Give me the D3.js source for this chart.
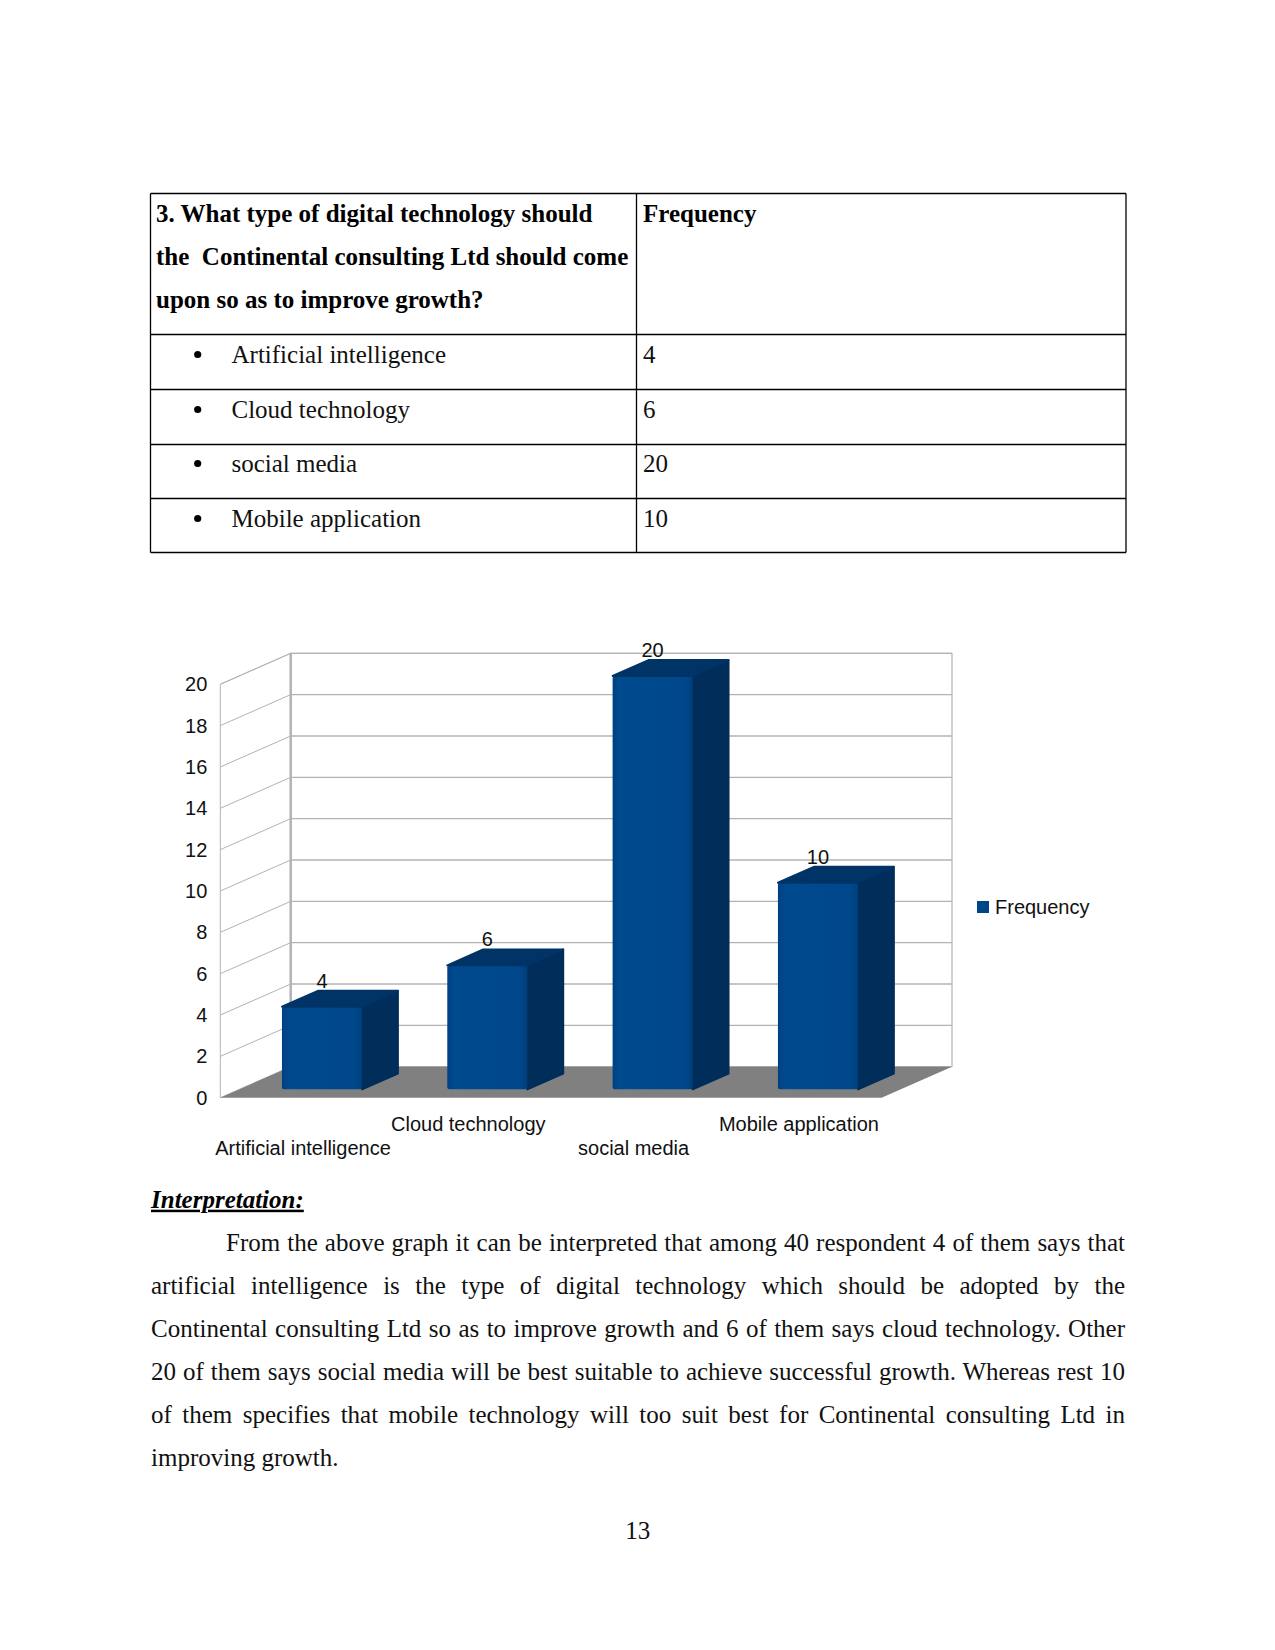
<!DOCTYPE html>
<html>
<head>
<meta charset="utf-8">
<script src="https://cdn.jsdelivr.net/npm/d3@7"></script>
<style>
  body { margin: 0; background: #fff; }
  #page { position: relative; width: 1275px; height: 1650px; overflow: hidden; }
  svg { position: absolute; left: 0; top: 0; }
  .para { position: absolute; left: 151px; width: 974px; font-family: "Liberation Serif", serif; font-size: 25px; color: #111; }
  .para div { height: 43.1px; line-height: 43.1px; text-align: justify; text-align-last: justify; }
  .para div.last { text-align-last: left; }
</style>
</head>
<body>
<div id="page"></div>
<script>
// page + chart layout
const PAGE_W = 1275, PAGE_H = 1650;

// data
const categories = ["Artificial intelligence", "Cloud technology", "social media", "Mobile application"];
const frequency = [4, 6, 20, 10];
const yTicks = [0, 2, 4, 6, 8, 10, 12, 14, 16, 18, 20];
const seriesName = "Frequency";

const question = ["3. What type of digital technology should",
                  "the  Continental consulting Ltd should come",
                  "upon so as to improve growth?"];

const paraLines = [
  "From the above graph it can be interpreted that among 40 respondent 4 of them says that",
  "artificial intelligence is the type of digital technology which should be adopted by the",
  "Continental consulting Ltd so as to improve growth and 6 of them says cloud technology. Other",
  "20 of them says social media will be best suitable to achieve successful growth. Whereas rest 10",
  "of them specifies that mobile technology will too suit best for Continental consulting Ltd in",
  "improving growth."
];

const svg = d3.select("#page")
  .append("svg")
    .attr("width", PAGE_W)
    .attr("height", PAGE_H);

// ---------- table ----------
const T = {left: 150.5, mid: 636.5, right: 1126, rows: [193.5, 334.5, 389.5, 444.5, 498.5, 552.5]};
const tbl = svg.append("g").attr("stroke", "#000").attr("stroke-width", 1.3);
T.rows.forEach(y => tbl.append("line").attr("x1", T.left).attr("x2", T.right).attr("y1", y).attr("y2", y));
[T.left, T.mid, T.right].forEach(x => tbl.append("line").attr("x1", x).attr("x2", x).attr("y1", T.rows[0]).attr("y2", T.rows[5]));

svg.selectAll(".q")
  .data(question)
  .enter()
  .append("text")
    .attr("x", 156)
    .attr("y", (d, i) => 222.2 + i * 43.1)
    .attr("font-family", "Liberation Serif")
    .attr("font-weight", "bold")
    .attr("font-size", 25)
    .attr("xml:space", "preserve")
    .style("white-space", "pre")
    .text(d => d);

svg.append("text")
  .attr("x", 643).attr("y", 222.2)
  .attr("font-family", "Liberation Serif").attr("font-weight", "bold").attr("font-size", 25)
  .text(seriesName);

const rowBase = [362.5, 417.5, 471.5, 526.5];
categories.forEach((c, i) => {
  svg.append("circle").attr("cx", 197.7).attr("cy", rowBase[i] - 8).attr("r", 3.6).attr("fill", "#000");
  svg.append("text").attr("x", 231.5).attr("y", rowBase[i])
    .attr("font-family", "Liberation Serif").attr("font-size", 25).attr("fill", "#111").text(c);
  svg.append("text").attr("x", 643).attr("y", rowBase[i])
    .attr("font-family", "Liberation Serif").attr("font-size", 25).attr("fill", "#111").text(frequency[i]);
});

// ---------- 3D bar chart ----------
const X0 = 220.3, X1 = 881.6;        // front plane of floor
const Y0 = 1097.7, Y20 = 684.3;      // front plane value range
const DEPTH = {dx: 70.4, dy: -31};    // front -> back wall
const Z0 = 0.27, Z1 = 0.78;           // bar depth span
const FONT_PX = 20;

const X_SCALE = d3.scaleBand().domain(categories).range([X0, X1]).padding(0);
const Y_SCALE = d3.scaleLinear().domain([0, 20]).range([Y0, Y20]);

const P = (x, v, z) => [x + z * DEPTH.dx, Y_SCALE(v) + z * DEPTH.dy];
const poly = pts => pts.map(p => p.join(",")).join(" ");

const chart = svg.append("g");

// left wall
chart.append("polygon")
  .attr("points", poly([P(X0, 0, 0), P(X0, 20, 0), P(X0, 20, 1), P(X0, 0, 1)]))
  .attr("fill", "#fff").attr("stroke", "#b3b3b3").attr("stroke-width", 1);

// back wall
chart.append("polygon")
  .attr("points", poly([P(X0, 0, 1), P(X0, 20, 1), P(X1, 20, 1), P(X1, 0, 1)]))
  .attr("fill", "#fff").attr("stroke", "#b3b3b3").attr("stroke-width", 1.2);

// gridlines: left wall diagonals + back wall horizontals
chart.selectAll(".gl")
  .data(yTicks.slice(1))
  .enter()
  .append("line")
    .attr("x1", d => P(X0, d, 0)[0]).attr("y1", d => P(X0, d, 0)[1])
    .attr("x2", d => P(X0, d, 1)[0]).attr("y2", d => P(X0, d, 1)[1])
    .attr("stroke", "#b3b3b3").attr("stroke-width", 1);

chart.selectAll(".gb")
  .data(yTicks.slice(1))
  .enter()
  .append("line")
    .attr("x1", d => P(X0, d, 1)[0]).attr("y1", d => P(X0, d, 1)[1])
    .attr("x2", d => P(X1, d, 1)[0]).attr("y2", d => P(X1, d, 1)[1])
    .attr("stroke", "#b3b3b3").attr("stroke-width", 1.3);

// thicker back-left edge
chart.append("line")
  .attr("x1", P(X0, 0, 1)[0]).attr("y1", P(X0, 0, 1)[1])
  .attr("x2", P(X0, 20, 1)[0]).attr("y2", P(X0, 20, 1)[1])
  .attr("stroke", "#b3b3b3").attr("stroke-width", 2.5);

// floor
chart.append("polygon")
  .attr("points", poly([P(X0, 0, 0), P(X1, 0, 0), P(X1, 0, 1), P(X0, 0, 1)]))
  .attr("fill", "#808080");

// gradient for front faces
const defs = svg.append("defs");
const grad = defs.append("linearGradient").attr("id", "frontGrad").attr("x1", 0).attr("x2", 1).attr("y1", 0).attr("y2", 0);
grad.append("stop").attr("offset", "0").attr("stop-color", "#004080");
grad.append("stop").attr("offset", "0.08").attr("stop-color", "#004a8e");
grad.append("stop").attr("offset", "0.9").attr("stop-color", "#00488b");
grad.append("stop").attr("offset", "1").attr("stop-color", "#003f7c");

const barW = X_SCALE.bandwidth() * 0.484;
const bars = chart.selectAll(".bar")
  .data(categories.map((c, i) => ({c: c, v: frequency[i]})))
  .enter()
  .append("g");

bars.each(function(d) {
  const g = d3.select(this);
  const xl = X_SCALE(d.c) + (X_SCALE.bandwidth() - barW) / 2;
  const xr = xl + barW;
  const f0 = P(xl, d.v, Z0), f1 = P(xr, 0, Z0);
  // side
  g.append("polygon")
    .attr("points", poly([P(xr, 0, Z0), P(xr, d.v, Z0), P(xr, d.v, Z1), P(xr, 0, Z1)]))
    .attr("fill", "#002d5a").attr("stroke", "#002d5a").attr("stroke-linejoin", "round").attr("stroke-width", 2);
  // front
  g.append("rect")
    .attr("x", f0[0]).attr("y", f0[1])
    .attr("width", f1[0] - f0[0]).attr("height", f1[1] - f0[1])
    .attr("rx", 2)
    .attr("fill", "url(#frontGrad)");
  // top (drawn last so its edge covers the seam)
  g.append("polygon")
    .attr("points", poly([P(xl, d.v, Z0), P(xr, d.v, Z0), P(xr, d.v, Z1), P(xl, d.v, Z1)]))
    .attr("fill", "#003366").attr("stroke", "#003366").attr("stroke-linejoin", "round").attr("stroke-width", 2);
  // value label
  g.append("text")
    .attr("x", (f0[0] + f1[0]) / 2)
    .attr("y", f0[1] - 19)
    .attr("text-anchor", "middle")
    .attr("font-family", "Liberation Sans").attr("font-size", FONT_PX).attr("fill", "#111")
    .text(d.v);
});

// y axis on left wall front edge
svg.append("g")
  .attr("transform", "translate(" + X0 + ",0)")
  .call(d3.axisLeft(Y_SCALE).tickValues(yTicks).tickSize(0).tickPadding(13))
  .call(g => g.select(".domain").remove())
  .selectAll("text")
    .attr("font-family", "Liberation Sans").attr("font-size", FONT_PX).attr("fill", "#111");

// category labels, staggered
svg.selectAll(".cat")
  .data(categories)
  .enter()
  .append("text")
    .attr("x", d => X_SCALE(d) + X_SCALE.bandwidth() / 2)
    .attr("y", (d, i) => i % 2 === 0 ? 1154.5 : 1131)
    .attr("text-anchor", "middle")
    .attr("font-family", "Liberation Sans").attr("font-size", FONT_PX).attr("fill", "#111")
    .text(d => d);

// legend
svg.append("rect").attr("x", 977).attr("y", 901).attr("width", 12).attr("height", 12).attr("fill", "#004586");
svg.append("text").attr("x", 995).attr("y", 914)
  .attr("font-family", "Liberation Sans").attr("font-size", FONT_PX).attr("fill", "#111").text(seriesName);

// ---------- interpretation ----------
svg.append("text")
  .attr("x", 151).attr("y", 1207.7)
  .attr("font-family", "Liberation Serif").attr("font-size", 25)
  .attr("font-weight", "bold").attr("font-style", "italic")
  .attr("text-decoration", "underline")
  .text("Interpretation:");

const para = d3.select("#page").append("div").attr("class", "para").style("top", (1251 - 30) + "px");
para.selectAll("div")
  .data(paraLines)
  .enter()
  .append("div")
    .attr("class", (d, i) => i === paraLines.length - 1 ? "last" : "")
    .style("padding-left", (d, i) => i === 0 ? "75px" : "0px")
    .text(d => d);

// page number
svg.append("text")
  .attr("x", 637.7).attr("y", 1539.3).attr("text-anchor", "middle")
  .attr("font-family", "Liberation Serif").attr("font-size", 25).attr("fill", "#111")
  .text("13");
</script>
</body>
</html>
